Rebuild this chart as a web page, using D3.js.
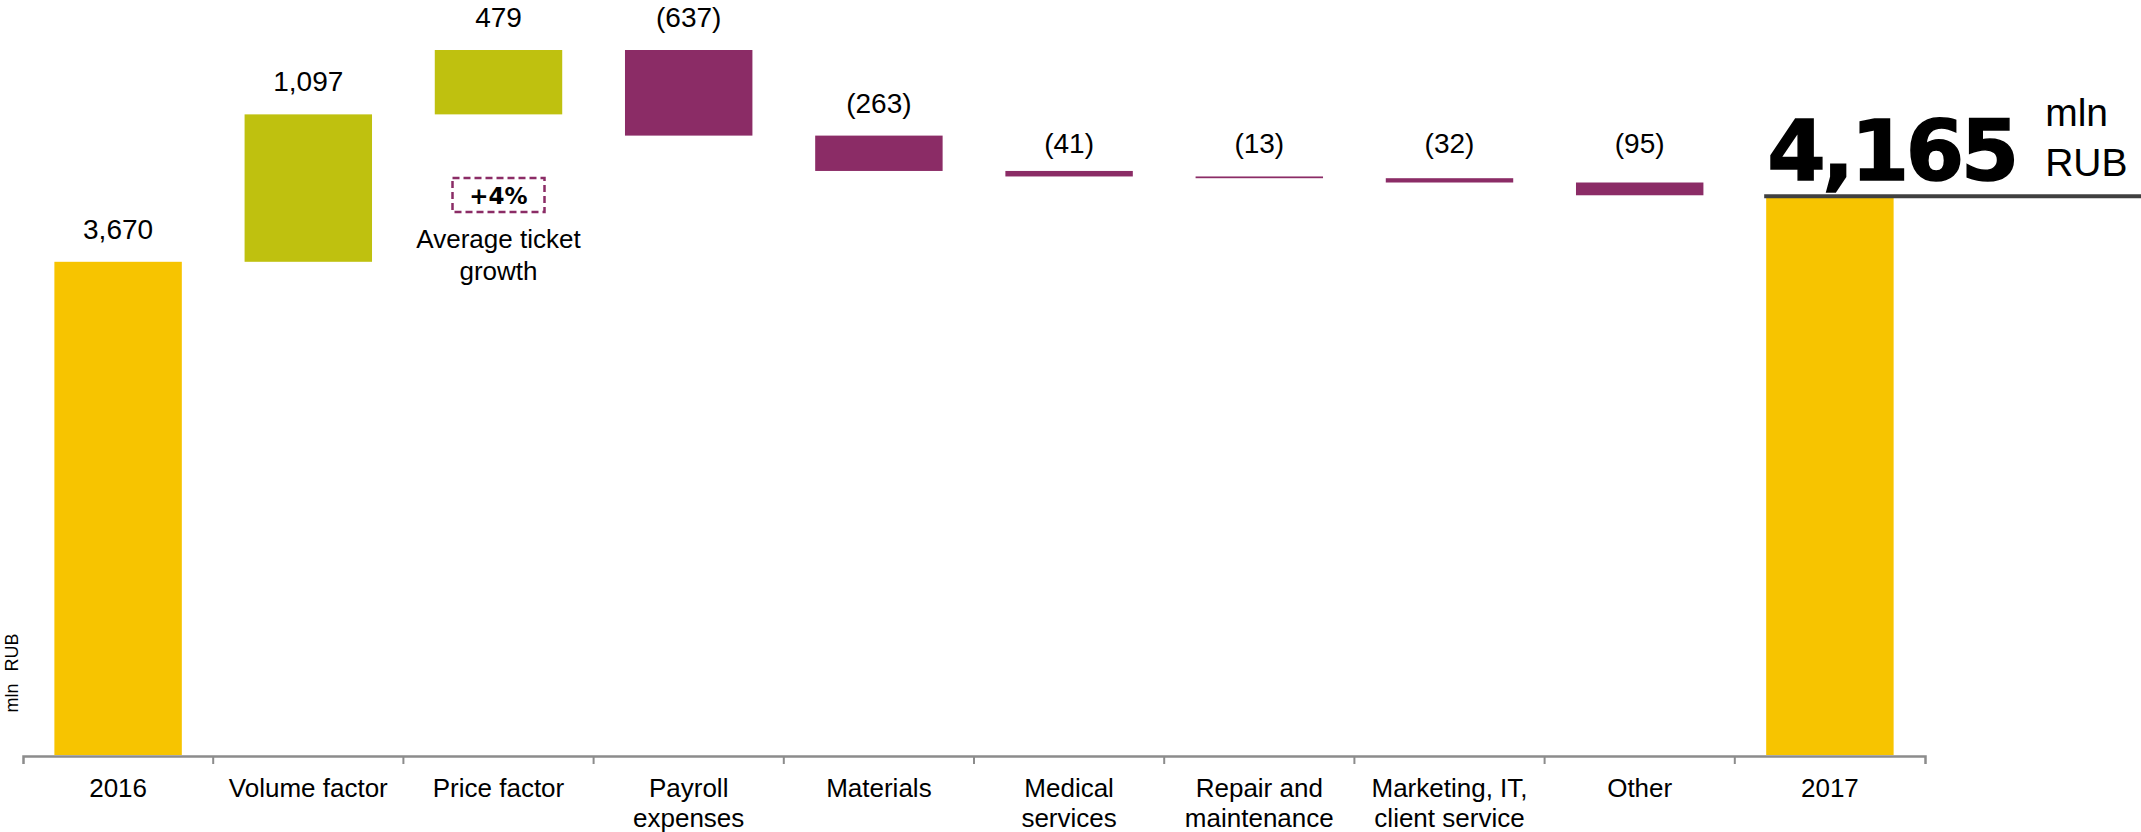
<!DOCTYPE html>
<html>
<head>
<meta charset="utf-8">
<script src="https://cdn.jsdelivr.net/npm/d3@7"></script>
<style>
  body { margin: 0; background: #fff; }
  svg text { font-family: "Liberation Sans", Arial, sans-serif; fill: #000; }
</style>
</head>
<body>
<div id="chart"></div>
<script>
// waterfall data
var categories = ["2016", "Volume factor", "Price factor", "Payroll expenses", "Materials",
  "Medical services", "Repair and maintenance", "Marketing, IT, client service", "Other", "2017"];
var categoryLines = [["2016"], ["Volume factor"], ["Price factor"], ["Payroll", "expenses"], ["Materials"],
  ["Medical", "services"], ["Repair and", "maintenance"], ["Marketing, IT,", "client service"], ["Other"], ["2017"]];
var values = [3670, 1097, 479, -637, -263, -41, -13, -32, -95, 4165];
var kinds = ["total", "up", "up", "down", "down", "down", "down", "down", "down", "total"];
var unitLines = ["mln", "RUB"];
var axisTitle = "mln RUB";
var note = { value: "+4%", text: ["Average ticket", "growth"], category: "Price factor" };

var colors = { total: "#f7c400", up: "#bfc10f", down: "#8b2c66" };

var width = 2141, height = 832;
var margin = { left: 23, right: 216, top: 50, bottom: 76 };

var svg = d3.select("#chart").append("svg")
  .attr("width", width)
  .attr("height", height);

// build running totals
var running = 0;
var bars = categories.map(function (c, i) {
  var v = values[i], start, end;
  if (kinds[i] == "total") { start = 0; end = v; running = v; }
  else { start = running; end = running + v; running = end; }
  return { cat: c, value: v, kind: kinds[i], lo: Math.min(start, end), hi: Math.max(start, end), lines: categoryLines[i] };
});

var x = d3.scaleBand()
  .domain(categories)
  .range([margin.left, width - margin.right])
  .paddingInner(0.33)
  .paddingOuter(0.165);

var y = d3.scaleLinear()
  .domain([0, d3.max(bars, function (d) { return d.hi; })])
  .range([height - margin.bottom - 1, margin.top]);

// bars
svg.append("g").selectAll("rect")
  .data(bars)
  .join("rect")
  .attr("x", function (d) { return x(d.cat); })
  .attr("width", x.bandwidth())
  .attr("y", function (d) { return y(d.hi); })
  .attr("height", function (d) { return Math.max(1.5, y(d.lo) - y(d.hi)); })
  .attr("fill", function (d) { return colors[d.kind]; });

// x axis: domain line with end ticks, boundary ticks in between
var axisY = height - margin.bottom;
var xAxis = svg.append("g")
  .attr("transform", "translate(0," + axisY + ")")
  .call(d3.axisBottom(x).tickSizeInner(0).tickSizeOuter(8).tickFormat(""));
xAxis.select(".domain").attr("stroke", "#8c8c8c").attr("stroke-width", 2.5);
xAxis.selectAll(".tick line").remove();

var gap = x.step() * x.paddingInner() / 2;
xAxis.selectAll(".bound")
  .data(categories.slice(1))
  .join("line")
  .attr("class", "bound")
  .attr("x1", function (c) { return x(c) - gap; })
  .attr("x2", function (c) { return x(c) - gap; })
  .attr("y1", 0).attr("y2", 8)
  .attr("stroke", "#8c8c8c").attr("stroke-width", 2);

// category labels
var catText = svg.append("g").selectAll("text")
  .data(bars)
  .join("text")
  .attr("text-anchor", "middle")
  .attr("font-size", 26);
catText.selectAll("tspan")
  .data(function (d) { return d.lines.map(function (l) { return { l: l, cx: x(d.cat) + x.bandwidth() / 2 }; }); })
  .join("tspan")
  .attr("x", function (t) { return t.cx; })
  .attr("y", function (t, i) { return axisY + 41 + i * 30; })
  .text(function (t) { return t.l; });

// value labels (not for the final total)
// thin bars share one label row
var fmt = d3.format(",");
var thin = function (d) { return y(d.lo) - y(d.hi) < 15; };
var thinRow = d3.min(bars.slice(0, -1).filter(thin), function (d) { return y(d.hi); }) - 18;
svg.append("g").selectAll("text")
  .data(bars.slice(0, -1))
  .join("text")
  .attr("text-anchor", "middle")
  .attr("font-size", 28)
  .attr("x", function (d) { return x(d.cat) + x.bandwidth() / 2; })
  .attr("y", function (d) { return thin(d) ? thinRow : y(d.hi) - 23; })
  .text(function (d) { return d.value < 0 ? "(" + fmt(-d.value) + ")" : fmt(d.value); });

// final total: big number with a rule under it
var last = bars[bars.length - 1];
svg.append("line")
  .attr("x1", x(last.cat) - 2).attr("x2", width)
  .attr("y1", y(last.hi) + 1).attr("y2", y(last.hi) + 1)
  .attr("stroke", "#404040").attr("stroke-width", 4);

svg.append("text")
  .attr("x", x(last.cat) + 1)
  .attr("y", y(last.hi) - 15)
  .attr("font-size", 84)
  .attr("font-weight", "bold")
  .style("font-family", "'DejaVu Sans', sans-serif")
  .attr("stroke", "#000").attr("stroke-width", 1.5)
  .attr("textLength", 252)
  .text(fmt(last.value));

svg.append("text")
  .attr("font-size", 39)
  .selectAll("tspan")
  .data(unitLines)
  .join("tspan")
  .attr("x", x(last.cat) + 279)
  .attr("y", function (d, i) { return y(last.hi) - 69 + i * 50; })
  .text(function (d) { return d; });

// y axis title
svg.append("text")
  .attr("transform", "translate(18,673) rotate(-90)")
  .attr("text-anchor", "middle")
  .attr("font-size", 18)
  .attr("word-spacing", 7)
  .text(axisTitle);

// price factor note
var nx = x(note.category) + x.bandwidth() / 2;
svg.append("rect")
  .attr("x", nx - 46).attr("y", 178)
  .attr("width", 92).attr("height", 34)
  .attr("fill", "none")
  .attr("stroke", "#8b2c66").attr("stroke-width", 2.5)
  .attr("stroke-dasharray", "7,4");
svg.append("text")
  .attr("x", nx).attr("y", 204)
  .attr("text-anchor", "middle")
  .attr("font-size", 23)
  .attr("font-weight", "bold")
  .style("font-family", "'DejaVu Sans', sans-serif")
  .text(note.value);
svg.append("text")
  .attr("text-anchor", "middle")
  .attr("font-size", 26)
  .selectAll("tspan")
  .data(note.text)
  .join("tspan")
  .attr("x", nx)
  .attr("y", function (d, i) { return 248 + i * 32; })
  .text(function (d) { return d; });
</script>
</body>
</html>
